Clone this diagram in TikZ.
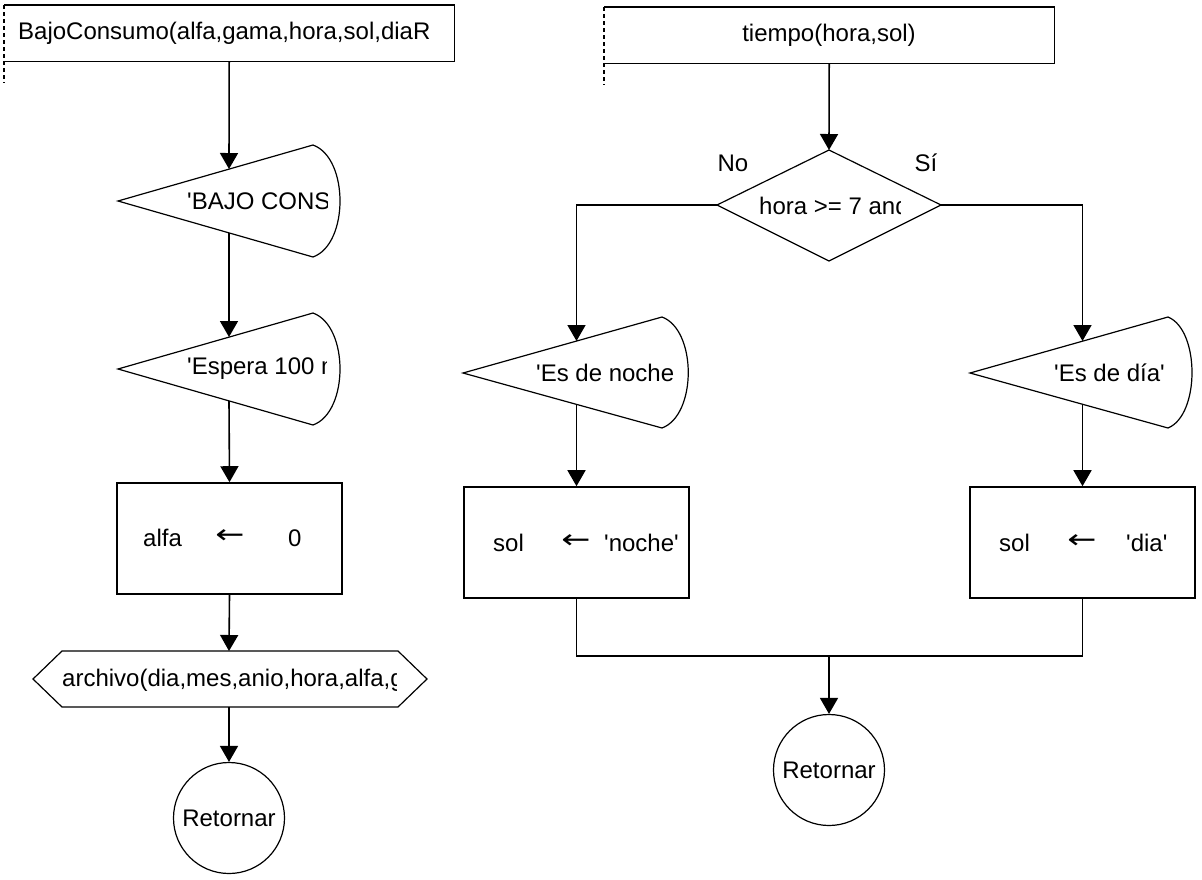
\documentclass[tikz,border=0pt]{standalone}
\usepackage{fontspec}
\usepackage{graphicx}
\newfontfamily\lsans{Liberation Sans}
\newfontfamily\djv{DejaVu Sans}
\usetikzlibrary{arrows.meta}
\newcommand\fsz{\lsans\fontsize{24}{28}\selectfont}
\newcommand\larr{\scalebox{1.45}[1.1]{\djv ←}}
\begin{document}
\begin{tikzpicture}[x=1pt,y=-1pt,
  plain/.style={line width=1.6pt},
  flow/.style={line width=1.6pt,-{Triangle[width=18pt,length=16pt]}},
  outline/.style={line width=1.2pt},
  dashline/.style={line width=1.4pt,dash pattern=on 4pt off 3pt},
  boxnode/.style={draw,line width=1.6pt,inner sep=0pt,minimum width=225pt,minimum height=111pt},
  frame/.style={inner sep=0pt,minimum width=450pt,minimum height=56pt,anchor=north west},
  txt/.style={font=\fsz,inner sep=0pt,anchor=west},
  ctxt/.style={font=\fsz,inner sep=0pt},
  retnode/.style={draw,circle,line width=1.2pt,minimum size=111pt,inner sep=0pt,font=\fsz}]
\useasboundingbox (0,0) rectangle (1202,879);
\fill[white] (0,0) rectangle (1202,879);

% ===== Left flowchart =====
\node[frame] (h1) at (4,5) {};
\draw[plain] (h1.north west) -- (h1.north east) -- (h1.south east) -- (h1.south west);
\draw[dashline] (h1.north west) -- ++(0,78);
\node[txt] (h1t) at (18,33) {BajoConsumo(alfa,gama,hora,sol,diaR};

% display 1
\coordinate (d1in) at (229,169);
\coordinate (d1out) at (229,233);
\draw[outline] (118,201) -- (313,145) .. controls (349,158) and (349,244) .. (313,257) -- cycle;
\begin{scope}
\clip (118,145) rectangle (327,257);
\node[txt] (d1) at (187,201) {'BAJO CONS};
\end{scope}

% display 2
\coordinate (d2in) at (229,337);
\coordinate (d2out) at (229,401);
\draw[outline] (118,369) -- (313,313) .. controls (349,326) and (349,412) .. (313,425) -- cycle;
\begin{scope}
\clip (118,313) rectangle (326,425);
\node[txt] (d2) at (187,369) {'Espera 100 m};
\end{scope}

% process 1
\node[boxnode] (p1) at (229.5,538.5) {};
\node[txt] (p1a) at (143,538) {alfa};
\node[ctxt] (p1b) at (230,537) {\larr};
\node[txt] (p1c) at (288,538) {0};

% hexagon
\coordinate (hxT) at (229,651);
\coordinate (hxB) at (229,707);
\draw[outline] (33,679) -- (62,651) -- (398,651) -- (427,679) -- (398,707) -- (62,707) -- cycle;
\begin{scope}
\clip (40,651) rectangle (396,707);
\node[txt] (hx) at (62,680) {archivo(dia,mes,anio,hora,alfa,g};
\end{scope}

% return 1
\node[retnode] (c1) at (229,818) {Retornar};

\draw[flow] (h1.south) -- (d1in);
\draw[flow] (d1out) -- (d2in);
\draw[flow] (d2out) -- (p1.north);
\draw[flow] (p1.south) -- (hxT);
\draw[flow] (hxB) -- (c1.north);

% ===== Right flowchart =====
\node[frame] (h2) at (604,7) {};
\draw[plain] (h2.north west) -- (h2.north east) -- (h2.south east) -- (h2.south west);
\draw[dashline] (h2.north west) -- ++(0,78);
\node[ctxt] (h2t) at (829,35) {tiempo(hora,sol)};

% decision
\coordinate (ddT) at (829,150);
\coordinate (ddL) at (717,205);
\coordinate (ddR) at (941,205);
\coordinate (ddB) at (829,261);
\draw[outline] (ddT) -- (ddR) -- (ddB) -- (ddL) -- cycle;
\begin{scope}
\clip (740,185) rectangle (900,228);
\node[txt] (dd) at (759,206) {hora >= 7 and};
\end{scope}
\node[ctxt] (no) at (733,163) {No};
\node[ctxt] (si) at (926,163) {Sí};

% display 3
\coordinate (d3in) at (576.5,341);
\coordinate (d3out) at (576.5,405);
\draw[outline] (463,373) -- (662,317) .. controls (697,330) and (697,415) .. (662,428) -- cycle;
\begin{scope}
\clip (463,317) rectangle (678,428);
\node[txt] (d3) at (536,373) {'Es de noche};
\end{scope}

% display 4
\coordinate (d4in) at (1082.5,341);
\coordinate (d4out) at (1082.5,405);
\draw[outline] (970,373) -- (1168,317) .. controls (1200,330) and (1200,415) .. (1168,428) -- cycle;
\node[txt] (d4) at (1054,373) {'Es de día'};

% process 2, 3
\node[boxnode] (p2) at (576.5,542.5) {};
\node[txt] (p2a) at (493,543) {sol};
\node[ctxt] (p2b) at (576,542) {\larr};
\node[txt] (p2c) at (604,543) {'noche'};

\node[boxnode] (p3) at (1082.5,542.5) {};
\node[txt] (p3a) at (999,543) {sol};
\node[ctxt] (p3b) at (1082,542) {\larr};
\node[txt] (p3c) at (1126,543) {'dia'};

% return 2
\coordinate (mj) at (829,656);
\node[retnode] (c2) at (829,770) {Retornar};

\draw[flow] (h2.south) -- (ddT);
\draw[flow] (ddL) -| (d3in);
\draw[flow] (ddR) -| (d4in);
\draw[flow] (d3out) -- (p2.north);
\draw[flow] (d4out) -- (p3.north);
\draw[plain] (p2.south) |- (mj) -| (p3.south);
\draw[flow] (mj) -- (c2.north);
\end{tikzpicture}
\end{document}
